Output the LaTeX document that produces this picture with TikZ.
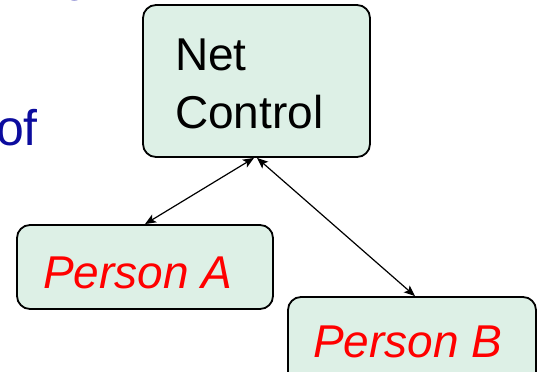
\documentclass[tikz,border=0pt]{standalone}
\usepackage{fontspec}
\setmainfont{Liberation Sans}
\usetikzlibrary{arrows.meta}
\definecolor{boxfill}{RGB}{221,240,230}
\definecolor{slideblue}{RGB}{12,12,158}
\tikzset{
  x=1pt, y=1pt,
  box/.style={draw=black, line width=1.8pt, fill=boxfill, rounded corners=13pt,
              inner sep=0pt},
  boxtext/.style={font=\fontsize{46pt}{58pt}\selectfont, inner sep=0pt, anchor=base west},
  persontext/.style={boxtext, text=red, font=\fontsize{46pt}{58pt}\selectfont\itshape},
  slidetext/.style={font=\fontsize{50pt}{60pt}\selectfont, text=slideblue, inner sep=0pt},
  link/.style={line width=1.2pt, {Stealth[length=11pt,width=9pt,inset=2.5pt]}-{Stealth[length=11pt,width=9pt,inset=2.5pt]}}
}
\begin{document}
\begin{tikzpicture}
  \useasboundingbox (0,0) rectangle (539,-372);
  \clip (0,0) rectangle (539,-372);

  % slide text running behind the diagram
  \node[slidetext, anchor=base] (gtail) at (75,9.5) {g};
  \node[slidetext, anchor=base east] (oftxt) at (38,-145) {of};

  % boxes
  \node[box, minimum width=227pt, minimum height=152pt] (net) at (256.5,-81) {};
  \node[box, minimum width=256pt, minimum height=84pt] (pa) at (145,-267) {};
  \node[box, minimum width=248pt, minimum height=90pt] (pb) at (412,-342) {};

  % labels
  \node[boxtext] (nettxt) at (175,-70) {Net};
  \node[boxtext] (ctltxt) at (175,-128) {Control};
  \node[persontext] (patxt) at (43,-288) {Person A};
  \node[persontext] (pbtxt) at (313,-357) {Person B};

  % connectors
  \draw[link] ([xshift=-2.5pt]net.south) -- (pa.north);
  \draw[link] ([xshift=0.5pt]net.south) -- ([xshift=3pt]pb.north);
\end{tikzpicture}
\end{document}
